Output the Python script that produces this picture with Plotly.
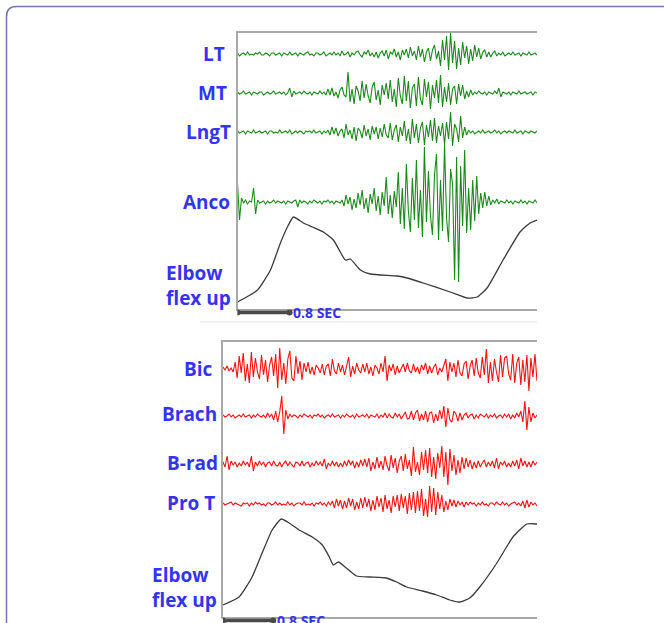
import numpy as np
import plotly.graph_objects as go

# ---------------- DATA ----------------
TOP_DURATION_S = 4.6
BOTTOM_DURATION_S = 5.0
SCALE_BAR_SEC = [0.0, 0.8]
SCALE_LABEL = "0.8 SEC"

top_labels = ["LT", "MT", "LngT", "Anco"]
bottom_labels = ["Bic", "Brach", "B-rad", "Pro T"]
elbow_label = ["Elbow", "flex up"]

LT = [1,-2,0,1,-1,2,-1,0,-1,1, 0,2,-1,-1,1,0,-2,1,1,-1, 0,1,-2,1,0,-1,2,-1,0,1,
      -2,1,0,-1,1,2,-1,0,-2,1, 1,-1,0,2,-2,0,1,-1,2,-1, 1,-2,3,-1,0,2,-3,1,-1,2,
      3,-1,-3,2,0,4,-2,1,-3,2, -4,1,3,-2,4,-5,2,0,5,-3, 2,-6,4,-1,5,-4,7,-2,3,-6,
      8,-3,5,-8,2,6,-7,4,9,-5,
      3,-12,14,-6,18,-16,21,-9,13,-15, 6,-11,12,-4,8,-10,5,-7,9,-3, 6,-5,2,4,-3,
      2,-3,1,3,-2,1,-1,2,-2,0, 1,-1,2,-1,0,1,-2,1,0,-1, 2,-1,0,1,-1]
MT = [1,-1,0,2,-1,0,1,-2,1,0, -1,1,1,-2,0,1,-1,0,2,-1, 0,1,-1,1,-2,0,5,-4,2,-1,
      0,1,-1,2,0,-1,1,-2,1,0, -1,2,-1,1,-2,
      4,-2,5,-3,1,-5,3,6,-2,-4,
      21,-9,4,-11,7,2,-8,12,-5,9, -3,-10,6,11,-7,3,-12,8,-2,10, -6,13,-9,4,-14,15,-3,-11,17,-8,
      12,-15,5,9,-13,16,-6,-12,14,-4, 11,-16,8,-5,13,-10,18,-14,6,-9, 10,-12,4,7,-11,9,-3,8,-6,2,
      -4,3,-2,1,-1,2,0,-1,1,-2, 1,0,-1,2,-1,5,-4,1,0,-1, 1,-2,1,0,-1,2,-1,0,1,-1, 0,1,-2,1,0]
LngT = [1,-1,0,1,-2,1,0,-1,2,-1, 0,1,-1,0,1,-2,1,1,-1,0, -1,2,-1,0,1,-1,2,-2,0,1,
        -1,1,0,-2,1,0,1,-1,2,-1, 0,1,-2,1,-1,2,
        -3,5,-2,4,-4,1,3,
        -6,8,-3,2,-7,5,-9,4,1,-6, 7,-4,3,-8,6,-2,5,-7,4,-5, 8,-3,-6,9,-8,2,7,-10,5,-4,
        11,-9,3,-12,13,-6,8,-11,4,10, -13,7,-5,12,-9,14,-11,6,-4,9, -12,10,-7,20,-14,8,3,-10,16,-6,
        5,-3,
        2,-1,1,-2,0,1,-1,2,-1,0, 1,-1,0,2,-1,1,-2,0,1,-1, 1,0,-1,2,-1,0,1,-2,1,0, -1,1,0,-1,1]
Anco = [19,-18,4,-1,2,-2,1,0,14,-12,
        2,-1,0,1,-2,1,-1,0,2,-1, 1,0,-1,1,-2,1,0,-1,1,2, -5,2,-1,1,0,-2,1,-1,2,0,
        -1,1,-2,1,0,2,-1,1,-2,1, 0,-1,2,
        -4,7,-2,5,-8,3,-6,9,-3,12, -7,4,-11,8,-2,14,-9,6,-13,10, -4,25,-12,7,-16,11,-5,
        30,-22,14,-27,38,-9,-30,24,-18,42, -26,12,-35,55,-20,31,-14,-33,27,48,
        -38,22,-29,58,-16,-40,33,18,-78,45, -80,36,-24,52,-31,14,-28,22,-19,26,
        -12,9,-6,10,-4,6,-3,2,-1,3, -2,1,0,-1,2,-1,1,-2,1,0, -1,2,-1,1,-2,1,0,-1,2,-1]

Bic = [2,-1,3,-2,1,-3,
       7,-9,13,-4,16,-12,5,-14,17,-8, 11,-3,-10,14,-6,9,-13,4,12,-7, 15,-19,21,-11,6,-15,10,18,-9,-12,
       13,-5,8,-11,
       6,-3,7,-5,2,-6,4,1,-4,5,
       -6,3,5,-7,10,-2,-5,6,-3,4, -6,2,12,-8,3,-5,6,-1,-4,5, -3,6,-5,2,-7,4,1,-5,6,-3,
       13,-12,4,-2,5,-6,3,-4,1,5, -3,6,-2,-4,5,-3,2,-5,4,-1, 6,-5,3,-4,2,5,-6,1,-3,4,
       10,-12,7,-3,6,-8,9,-4,-7,5,
       8,-10,3,9,-7,11,-4,-9,12,-6, 20,-14,7,-12,10,-3,-13,14,-8,11, 13,-5,-11,15,-14,6,12,-16,9,-13,
       14,-22,11,-8,15,-12]
Brach = [1,-1,0,2,-1,1,-2,0,1,-1, 2,-1,0,1,-2,1,-1,2,0,-1, 1,-2,3,-1,2,
         -4,5,-6,4,20,-18,6,
         -3,2,-1,1,0,-2,1,-1,2,0, -1,1,-2,1,0,2,-1,1,-2,0, 1,-1,2,-1,0,1,-2,1,-1,2,
         0,-1,1,-2,2,-1,0,1,-1,2, -2,1,0,-1,2,-2,1,-1,3,-2, 2,-1,-2,3,-1,2,-3,1,
         4,-3,-2,5,-4,3,6,-5,2,-4, 5,-6,3,4,-7,2,-5,6,-3,10, -11,8,-4,-6,5,2,-5,3,-4,1,
         3,-2,1,2,-3,1,-2,2,0,-1, 2,-2,1,-1,2,-2,0,1,-2,2, -1,2,-3,1,-2,3,-1,
         5,-6,15,-14,9,-6,3,-2,1]
Brad = [2,-3,8,-6,3,-1,2,-3,1,-2, 3,-1,2,-3,8,-7,2,-2,3,-1, 2,-3,1,2,-2,3,-1,-2,2,-3,
        1,3,-2,2,-1,-3,2,1,-2,3, -2,1,2,-3,1,-2,3,-1,2,-2, 5,-5,1,-2,3,-2,2,-3,1,-3,
        3,-2,4,-1,3,-4,2,-3,4,-2,
        5,-3,6,-7,2,-5,7,-4,3,-6, 8,-2,-7,9,-4,6,-9,3,8,-7, 10,-5,4,-12,17,-8,2,-11,12,-6,
        14,-9,16,-13,7,-15,11,-4,18,-13, 12,-21,15,-7,9,-11,4,-9,7,-5, 6,-3,4,
        -5,2,-4,3,-3,1,4,-3,2,-2, 3,-4,6,-5,2,-1,3,-3,1,-3, 3,-2,4,-5,6,-2,3,-3,2,-3, 3,-1,2]
ProT = [1,-1,0,1,2,-1,1,0,-1,-2, 1,0,1,-2,1,-1,2,0,1,-1, 0,-2,1,1,-1,0,2,-1,1,-1,
        0,-1,2,-1,1,-2,0,1,1,-1, 2,-1,0,-1,1,-2,1,0,2,-1, 1,-2,2,-1,3,-4,
        5,-2,4,-5,3,-4,6,-2,5,-6, 2,-5,6,-4,7,-3,5,-7,4,-6, 8,-3,6,-8,9,-5,4,-9,8,-3,
        9,-7,10,-4,8,-10,11,-6,12,-9, 13,-7,15,-12,5,-13,18,-8,16,-11, 12,-5,9,-8,3,-6,5,-2,4,-3,
        3,-1,2,-3,
        2,-1,2,0,1,-2,1,-1,2,-1, 0,-2,1,1,-1,2,0,-1,2,-1, 1,-2,0,1,2,-1,1,-2,3,-4, 4,-3,2,-1,1,-2]

elbow_top_t = [0, 0.307, 0.506, 0.659, 0.782, 0.859, 1.012, 1.15, 1.319, 1.472, 1.579, 1.656,
               1.733, 1.886, 2.039, 2.453, 2.607, 2.852, 3.266, 3.527, 3.68, 3.833, 4.079,
               4.339, 4.493, 4.6]
elbow_top_v = [7, 19, 39, 66, 84, 92, 86, 82, 77, 69, 57, 49, 50, 39, 35, 33, 31, 26, 17, 11,
               12, 21, 49, 77, 86, 89]
elbow_bot_t = [0, 0.256, 0.463, 0.623, 0.783, 0.927, 1.054, 1.214, 1.422, 1.581, 1.693, 1.757,
               1.837, 1.965, 2.125, 2.332, 2.604, 2.764, 2.923, 3.179, 3.403, 3.610, 3.770,
               3.930, 4.089, 4.361, 4.617, 4.840, 5.0]
elbow_bot_v = [12, 20, 40, 64, 87, 98, 94, 87, 80, 72, 60, 52, 55, 49, 41, 40, 39, 35, 30, 26,
               22, 17, 15, 19, 30, 54, 80, 93, 93]

# ---------------- LAYOUT HELPERS ----------------
W, H = 664, 623
def PX(x): return x / W
def PY(y): return 1 - y / H

TOP_BASE = {"LT": 255, "MT": 216, "LngT": 177, "Anco": 107}
BOT_BASE = {"Bic": 248, "Brach": 201, "B-rad": 153, "Pro T": 113}
GREEN = "#1b8a1b"
RED = "#ff1010"
BLUE = "#3434ee"
FONT = "Open Sans"

fig = go.Figure()

top_series = {"LT": LT, "MT": MT, "LngT": LngT, "Anco": Anco}
for name, vals in top_series.items():
    t = np.linspace(0, TOP_DURATION_S, len(vals))
    fig.add_trace(go.Scatter(x=t, y=np.array(vals) + TOP_BASE[name], mode="lines",
                             line=dict(color=GREEN, width=1.1), xaxis="x", yaxis="y",
                             showlegend=False, hoverinfo="skip"))
fig.add_trace(go.Scatter(x=elbow_top_t, y=elbow_top_v, mode="lines",
                         line=dict(color="#3a3a3a", width=1.3, shape="spline", smoothing=0.5),
                         xaxis="x", yaxis="y", showlegend=False))

bot_series = {"Bic": Bic, "Brach": Brach, "B-rad": Brad, "Pro T": ProT}
for name, vals in bot_series.items():
    t = np.linspace(0, BOTTOM_DURATION_S, len(vals))
    fig.add_trace(go.Scatter(x=t, y=np.array(vals) + BOT_BASE[name], mode="lines",
                             line=dict(color=RED, width=1.1), xaxis="x2", yaxis="y2",
                             showlegend=False, hoverinfo="skip"))
fig.add_trace(go.Scatter(x=elbow_bot_t, y=elbow_bot_v, mode="lines",
                         line=dict(color="#3a3a3a", width=1.3, shape="spline", smoothing=0.5),
                         xaxis="x2", yaxis="y2", showlegend=False))

axis_common = dict(showgrid=False, zeroline=False, showticklabels=False, ticks="",
                   showline=True, linecolor="#a8a8a8", linewidth=1.5)
fig.update_layout(
    width=W, height=H, margin=dict(l=0, r=0, t=0, b=0),
    paper_bgcolor="white", plot_bgcolor="rgba(0,0,0,0)",
    xaxis=dict(domain=[PX(237.5), PX(537)], range=[0, TOP_DURATION_S], mirror=True,
               anchor="y", **axis_common),
    yaxis=dict(domain=[PY(309), PY(33)], range=[0, 276], mirror=False, anchor="x",
               **axis_common),
    xaxis2=dict(domain=[PX(223), PX(537)], range=[0, BOTTOM_DURATION_S], mirror=True,
                anchor="y2", **axis_common),
    yaxis2=dict(domain=[PY(617), PY(341.5)], range=[0, 275.5], mirror=False, anchor="x2",
                **axis_common),
)

ann = []
def label(text, x, y, anchor, size=19):
    ann.append(dict(text="<b>%s</b>" % text, x=PX(x), y=PY(y), xref="paper", yref="paper",
                    xanchor=anchor, yanchor="middle", align="left", showarrow=False,
                    font=dict(family=FONT, size=size, color=BLUE)))

label(top_labels[0], 227, 54, "right")
label(top_labels[1], 229, 93, "right")
label(top_labels[2], 233, 132, "right")
label(top_labels[3], 232, 202, "right")
label("<br>".join(elbow_label), 164, 285, "left", 19)
label(bottom_labels[0], 215, 369, "right")
label(bottom_labels[1], 219, 414, "right")
label(bottom_labels[2], 220, 463, "right")
label(bottom_labels[3], 217, 503, "right")
label("<br>".join(elbow_label), 150, 587.5, "left", 19)

# scale bars (x in seconds on each panel's time axis, y fixed below the panel)
for xr, ybar in (("x", 312.5), ("x2", 620.5)):
    fig.add_shape(type="line", xref=xr, yref="paper", x0=SCALE_BAR_SEC[0], x1=SCALE_BAR_SEC[1],
                  y0=PY(ybar), y1=PY(ybar), line=dict(color="#4a4a4a", width=3.5))
    for xe in SCALE_BAR_SEC:
        fig.add_shape(type="circle", xref=xr, yref="paper", xsizemode="pixel",
                      ysizemode="pixel", xanchor=xe, yanchor=PY(ybar), x0=-3, x1=3, y0=-3, y1=3,
                      fillcolor="#4a4a4a", line=dict(width=0))
    ann.append(dict(text="<b>%s</b>" % SCALE_LABEL, x=SCALE_BAR_SEC[1] + 0.02, y=PY(ybar - 0.5),
                    xref=xr, yref="paper", xanchor="left", yanchor="middle", showarrow=False,
                    font=dict(family=FONT, size=14, color=BLUE)))
fig.update_layout(annotations=ann)

# outer rounded frame and separator
x0, y0, r = PX(6.5), PY(6.5), 10
frame = ("M %f,%f L %f,%f Q %f,%f %f,%f L %f,%f" %
         (x0, PY(700), x0, PY(6.5 + r), x0, y0, PX(6.5 + r), y0, PX(700), y0))
fig.add_shape(type="path", path=frame, xref="paper", yref="paper",
              line=dict(color="#7474b4", width=1.5))
fig.add_shape(type="line", x0=PX(200), x1=PX(537), y0=PY(322), y1=PY(322),
              xref="paper", yref="paper", line=dict(color="#e2e2e2", width=1))

fig.write_html("out.html", config={"displayModeBar": False},
               post_script="document.body.style.margin='0';")
